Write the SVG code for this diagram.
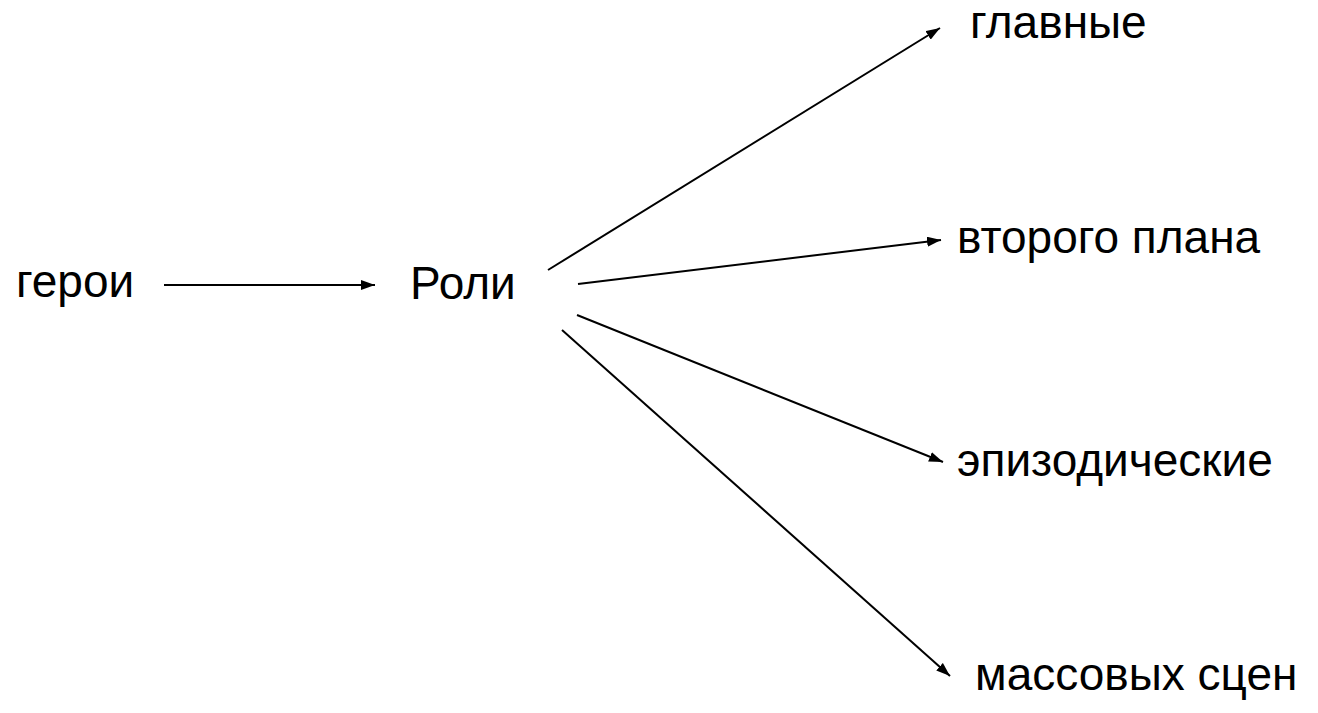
<svg xmlns="http://www.w3.org/2000/svg" width="1318" height="713" viewBox="0 0 1318 713">
<style>
text{font-family:"Liberation Sans",Arial,sans-serif;font-size:46px;fill:#000}
.c{stroke:#000;stroke-width:2;fill:none;marker-end:url(#ah)}
</style>
<defs>
<marker id="ah" viewBox="0 0 14 10" refX="14" refY="5" markerWidth="14" markerHeight="10" orient="auto" markerUnits="userSpaceOnUse">
<path d="M0,0 L14,5 L0,10 z" fill="#000"/>
</marker>
</defs>
<rect width="1318" height="713" fill="#fff"/>
<g id="connectors">
<line class="c" x1="164" y1="285" x2="375" y2="285"/>
<line class="c" x1="548" y1="270" x2="940" y2="28"/>
<line class="c" x1="578" y1="284" x2="941" y2="240"/>
<line class="c" x1="577" y1="315" x2="943" y2="462"/>
<line class="c" x1="562" y1="330" x2="950" y2="676"/>
</g>
<g id="n-geroi"><text x="16" y="297">герои</text></g>
<g id="n-roli"><text x="410" y="299">Роли</text></g>
<g id="n-glavnye"><text x="970" y="38">главные</text></g>
<g id="n-vtorogo"><text x="957" y="253">второго плана</text></g>
<g id="n-epizod"><text x="957" y="476">эпизодические</text></g>
<g id="n-massovyh"><text x="975" y="690">массовых сцен</text></g>
</svg>
